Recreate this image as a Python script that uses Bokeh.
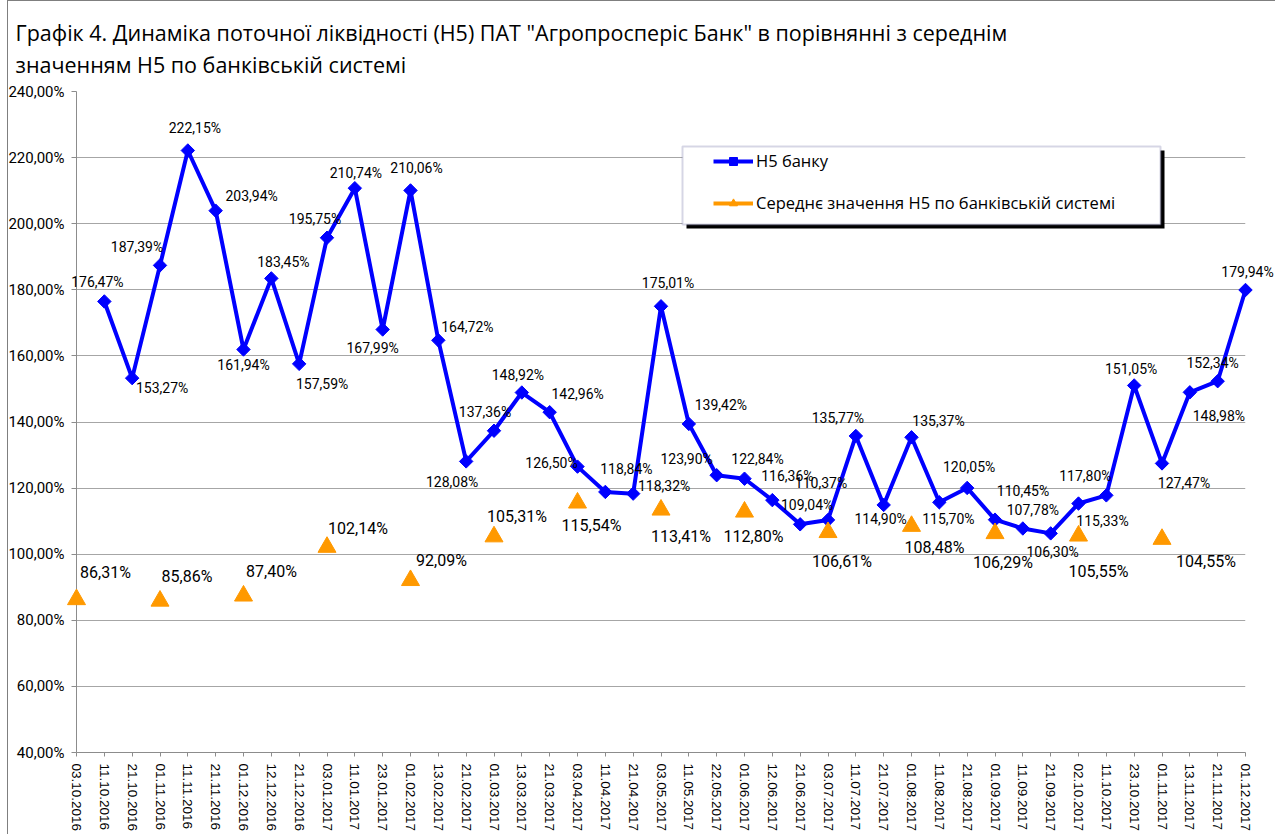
import math
from bokeh.plotting import figure
from bokeh.models import (ColumnDataSource, Range1d, FixedTicker, Legend, LegendItem,
                          BoxAnnotation, Title)
from bokeh.core.properties import value
from bokeh.embed import file_html
from bokeh.resources import INLINE

NaN = float("nan")

# ---------------- data ----------------
dates = ["03.10.2016", "11.10.2016", "21.10.2016", "01.11.2016", "11.11.2016", "21.11.2016",
         "01.12.2016", "12.12.2016", "21.12.2016", "03.01.2017", "11.01.2017", "23.01.2017",
         "01.02.2017", "13.02.2017", "21.02.2017", "01.03.2017", "13.03.2017", "21.03.2017",
         "03.04.2017", "11.04.2017", "21.04.2017", "03.05.2017", "11.05.2017", "22.05.2017",
         "01.06.2017", "12.06.2017", "21.06.2017", "03.07.2017", "11.07.2017", "21.07.2017",
         "01.08.2017", "11.08.2017", "21.08.2017", "01.09.2017", "11.09.2017", "21.09.2017",
         "02.10.2017", "11.10.2017", "23.10.2017", "01.11.2017", "13.11.2017", "21.11.2017",
         "01.12.2017"]

bank_h5 = [NaN, 176.47, 153.27, 187.39, 222.15, 203.94,
           161.94, 183.45, 157.59, 195.75, 210.74, 167.99,
           210.06, 164.72, 128.08, 137.36, 148.92, 142.96,
           126.50, 118.84, 118.32, 175.01, 139.42, 123.90,
           122.84, 116.36, 109.04, 110.37, 135.77, 114.90,
           135.37, 115.70, 120.05, 110.45, 107.78, 106.30,
           115.33, 117.80, 151.05, 127.47, 148.98, 152.34,
           179.94]

system_h5 = [86.31, NaN, NaN, 85.86, NaN, NaN,
             87.40, NaN, NaN, 102.14, NaN, NaN,
             92.09, NaN, NaN, 105.31, NaN, NaN,
             115.54, NaN, NaN, 113.41, NaN, NaN,
             112.80, NaN, NaN, 106.61, NaN, NaN,
             108.48, NaN, NaN, 106.29, NaN, NaN,
             105.55, NaN, NaN, 104.55, NaN, NaN,
             NaN]

y_ticks = [40, 60, 80, 100, 120, 140, 160, 180, 200, 220, 240]

title_line1 = 'Графік 4. Динаміка поточної ліквідності (Н5) ПАТ "Агропросперіс Банк" в порівнянні з середнім'
title_line2 = "значенням Н5 по банківській системі"
series_names = ["Н5 банку", "Середнє значення Н5 по банківській системі"]

# ---------------- label placement (pixel offsets, style only) ----------------
bank_label_dx = [-7, 30, -23, 7, 36, 0, 12, 23, -12, 1, -10, 6, 29, -14, -9, -4, 28, -26, 21, 31,
                 7, 32, -30, 13, 15, 7, -7, -18, -3, 27, 9, 2, 28, 10, 2, 24, -21, -3, 22, 29, -5, 2]
bank_label_dy = [-19, 10, -18, -22, -15, 16, -16, 20, -19, -15, 19, -22, -13, 21, -19, -18, -18, -4, -23, -8,
                 -23, -19, -16, -20, -24, -19, -37, -18, 14, -16, 17, -21, -29, -18, 19, 17, -19, -16, 20, 24, -18, -18]
sys_label_dx = [29, 27, 28, 31, 31, 23, 14, 20, 9, 14, 23, 8, 20, 44]
sys_label_dy = [-27, -24, -24, -19, -20, -20, 23, 27, 25, 29, 21, 29, 36, 22]


def pct(v):
    return f"{v:.2f}".replace(".", ",") + "%"


xs = list(range(len(dates)))
src = ColumnDataSource(dict(x=xs, bank=bank_h5, sys=system_h5))

bx = [x for x, v in zip(xs, bank_h5) if not math.isnan(v)]
bv = [v for v in bank_h5 if not math.isnan(v)]
bank_lbl = ColumnDataSource(dict(x=bx, y=bv, t=[pct(v) for v in bv],
                                 dx=bank_label_dx, dy=bank_label_dy))
sx = [x for x, v in zip(xs, system_h5) if not math.isnan(v)]
sv = [v for v in system_h5 if not math.isnan(v)]
sys_lbl = ColumnDataSource(dict(x=sx, y=sv, t=[pct(v) for v in sv],
                                dx=sys_label_dx, dy=sys_label_dy))

BLUE = "#0000ff"
ORANGE = "#ff9900"
GRAY = "#8c8c8c"

W, H = 1275, 834
ML, MR, MT, MB = 76, 30, 91, 81

p = figure(width=W, height=H,
           x_range=Range1d(0, len(dates) - 1), y_range=Range1d(40, 240),
           output_backend="svg", toolbar_location=None,
           min_border_left=ML, min_border_right=MR, min_border_top=MT, min_border_bottom=MB,
           background_fill_color="white", border_fill_color="white", border_fill_alpha=0)
# chart-area border (left and top edges) drawn behind the transparent canvas border
p.styles = {"background": "linear-gradient(#7f7f7f, #7f7f7f) 7px 0 / 1px 100% no-repeat, "
                          "linear-gradient(#7f7f7f, #7f7f7f) 7px 0 / 100% 1px no-repeat, #ffffff"}
p.outline_line_color = None

# grid
p.xgrid.visible = False
p.ygrid.ticker = FixedTicker(ticks=y_ticks)
p.ygrid.grid_line_color = "#a6a6a6"
p.ygrid.grid_line_width = 1

# y axis
p.yaxis.ticker = FixedTicker(ticks=y_ticks)
p.yaxis.major_label_overrides = {t: pct(t) for t in y_ticks}
p.yaxis.axis_line_color = GRAY
p.yaxis.major_tick_line_color = GRAY
p.yaxis.major_tick_in = 0
p.yaxis.major_tick_out = 5
p.yaxis.minor_tick_line_color = None
p.yaxis.major_label_standoff = 7
p.yaxis.major_label_text_font = "Roboto"
p.yaxis.major_label_text_font_size = "15px"
p.yaxis.major_label_text_color = "black"

# x axis
p.xaxis.ticker = FixedTicker(ticks=xs)
p.xaxis.major_label_overrides = {i: d for i, d in enumerate(dates)}
p.xaxis.major_label_orientation = "vertical"
p.xaxis.axis_line_color = GRAY
p.xaxis.major_tick_line_color = GRAY
p.xaxis.major_tick_in = 0
p.xaxis.major_tick_out = 4
p.xaxis.minor_tick_line_color = None
p.xaxis.major_label_standoff = 7
p.xaxis.major_label_text_font = "Liberation Sans"
p.xaxis.major_label_text_font_size = "13.5px"
p.xaxis.major_label_text_color = "black"

# title (two lines)
title = Title(text=title_line1 + "\n" + title_line2, align="left", offset=-61,
              text_font="Open Sans", text_font_size="21.5px", text_font_style="normal",
              text_color="black", text_line_height=1.1, standoff=25)
p.add_layout(title, "above")

# series
bank_line = p.line(x="x", y="bank", source=src, line_color=BLUE, line_width=4, level="overlay")
bank_pts = p.scatter(x="x", y="bank", source=src, marker="square", angle=math.pi / 4, size=9.5,
                     fill_color=BLUE, line_color=BLUE, level="overlay")
sys_line = p.line(x="x", y="sys", source=src, line_color=ORANGE, line_width=4, level="overlay")
sys_pts = p.scatter(x="x", y="sys", source=src, marker="triangle", size=18,
                    fill_color=ORANGE, line_color=ORANGE, level="overlay")

# data labels
p.text(x="x", y="y", text="t", x_offset="dx", y_offset="dy", source=bank_lbl,
       text_font=value("Roboto"), text_font_size="14px", text_align="center",
       text_baseline="middle", text_color="black", level="overlay")
p.text(x="x", y="y", text="t", x_offset="dx", y_offset="dy", source=sys_lbl,
       text_font=value("Roboto"), text_font_size="16px", text_align="center",
       text_baseline="middle", text_color="black", level="overlay")

# legend box with shadow
shadow = BoxAnnotation(left=610, right=1088, bottom=524, top=602,
                       left_units="screen", right_units="screen", top_units="screen", bottom_units="screen",
                       fill_color="black", fill_alpha=1, line_alpha=0)
box = BoxAnnotation(left=606, right=1084, bottom=528, top=606,
                    left_units="screen", right_units="screen", top_units="screen", bottom_units="screen",
                    fill_color="white", fill_alpha=1, line_color="#7878a8", line_width=2)
p.add_layout(shadow)
p.add_layout(box)

legend = Legend(items=[LegendItem(label=series_names[0], renderers=[bank_line, bank_pts]),
                       LegendItem(label=series_names[1], renderers=[sys_line, sys_pts])],
                location=(637, 538), orientation="vertical",
                glyph_width=40, glyph_height=20, label_height=20, spacing=19,
                padding=0, margin=0, label_standoff=3,
                background_fill_alpha=0, border_line_alpha=0,
                label_text_font="Open Sans", label_text_font_size="16.5px", label_text_color="black")
p.add_layout(legend)

open("out.html", "w").write(file_html(p, INLINE))
